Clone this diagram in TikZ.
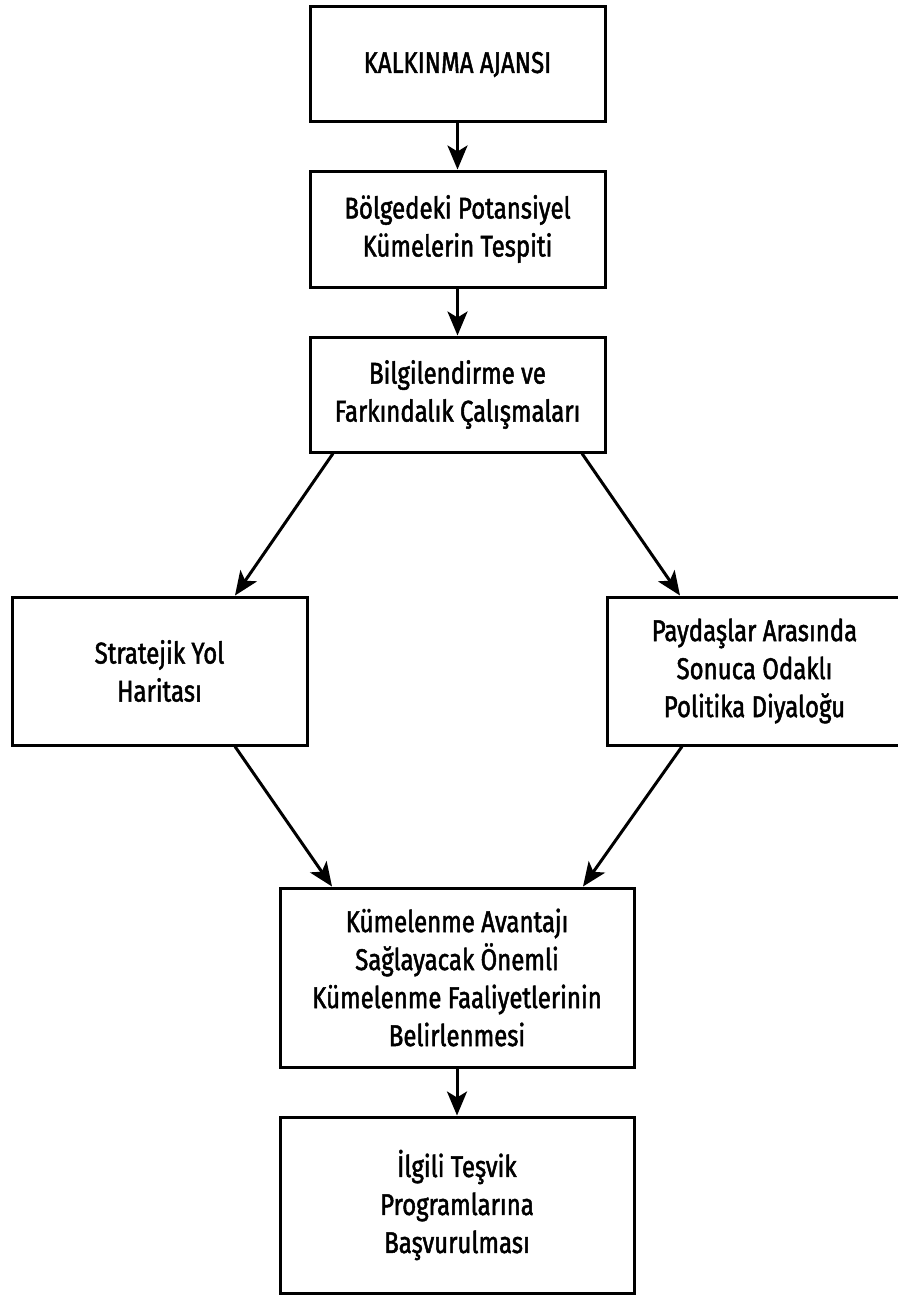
\documentclass[tikz,border=0pt]{standalone}
\usepackage{fontspec}
\setmainfont[FakeStretch=0.8,FakeBold=1.6]{Fira Sans}
\usetikzlibrary{arrows.meta}
\begin{document}
\begin{tikzpicture}[x=1pt,y=-1pt,
  box/.style={draw, line width=3pt, minimum width=295pt, minimum height=115pt,
    align=center, inner sep=0pt, font=\fontsize{30}{38}\selectfont},
  wide/.style={minimum width=354pt},
  arr/.style={line width=3pt, -{Stealth[length=24pt,width=20pt,inset=6pt]}}]
\useasboundingbox (0,0) rectangle (897,1295);
\node[box] (b1) at (457.5,64.5) {KALKINMA AJANSI};
\node[box, minimum height=116pt] (b2) at (457.5,229) {Bölgedeki Potansiyel\\Kümelerin Tespiti};
\node[box] (b3) at (457.5,394.5) {Bilgilendirme ve\\Farkındalık Çalışmaları};
\node[box, minimum height=148pt] (b4) at (159.5,671) {Stratejik Yol\\Haritası};
\node[box, minimum height=148pt] (b5) at (754.5,671) {Paydaşlar Arasında\\Sonuca Odaklı\\Politika Diyaloğu};
\node[box, wide, minimum height=179pt] (b6) at (457,977.5) {Kümelenme Avantajı\\Sağlayacak Önemli\\Kümelenme Faaliyetlerinin\\Belirlenmesi};
\node[box, wide, minimum height=176pt] (b7) at (457,1205) {İlgili Teşvik\\Programlarına\\Başvurulması};
\coordinate (s34) at ([xshift=-124.5pt]b3.south);
\coordinate (e34) at ([xshift=75.5pt]b4.north);
\coordinate (s35) at ([xshift=124.5pt]b3.south);
\coordinate (e35) at ([xshift=-74.5pt]b5.north);
\coordinate (s46) at ([xshift=75.5pt]b4.south);
\coordinate (e46) at ([xshift=-125pt]b6.north);
\coordinate (s56) at ([xshift=-72.5pt]b5.south);
\coordinate (e56) at ([xshift=126pt]b6.north);
\draw[arr] (b1) -- (b2);
\draw[arr] (b2) -- (b3);
\draw[arr] (s34) -- (e34);
\draw[arr] (s35) -- (e35);
\draw[arr] (s46) -- (e46);
\draw[arr] (s56) -- (e56);
\draw[arr] (b6) -- (b7);
\end{tikzpicture}
\end{document}
